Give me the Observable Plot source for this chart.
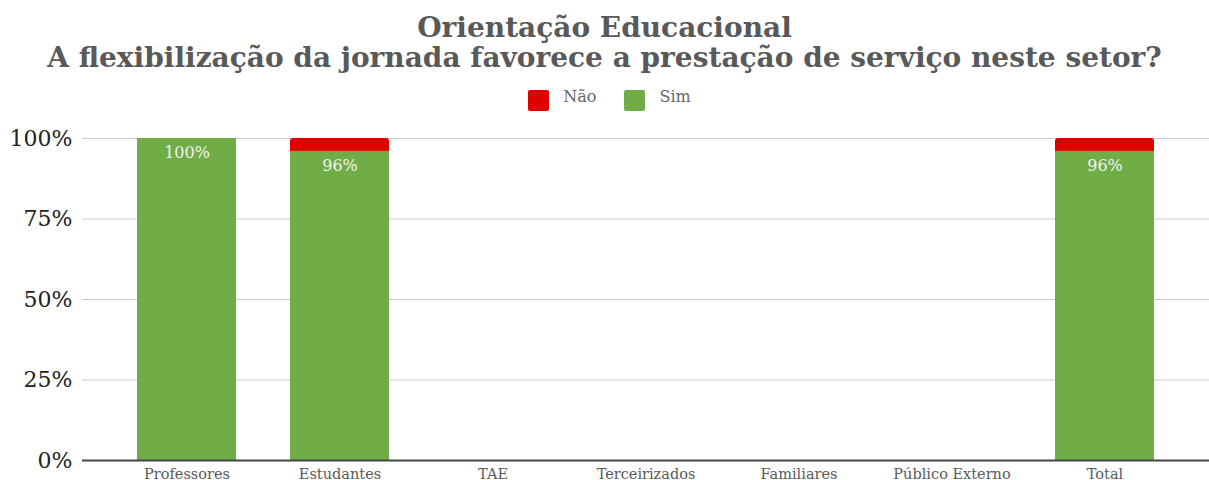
<!DOCTYPE html>
<html>
<head>
<meta charset="utf-8">
<script src="https://cdn.jsdelivr.net/npm/d3@7"></script>
<script src="https://cdn.jsdelivr.net/npm/@observablehq/plot@0.6"></script>
<style>
  html, body { margin: 0; background: #fff; font-family: "DejaVu Serif", serif; overflow: hidden; }
  #title { padding-top: 13px; text-align: center; font-weight: bold; font-size: 28px; line-height: 30px; color: #595959; white-space: nowrap; }
  #legend { height: 50px; box-sizing: border-box; padding-top: 4px; padding-left: 10px; display: flex; justify-content: center; align-items: center; font-size: 16px; color: #666; }
  .item { display: flex; align-items: center; margin: 0 14px; }
  .item span { position: relative; top: -4px; }
  .sw { width: 21px; height: 21px; border-radius: 2px; margin-right: 14px; }
</style>
</head>
<body>
<div id="title">Orientação Educacional<br>A flexibilização da jornada favorece a prestação de serviço neste setor?</div>
<div id="legend"></div>
<div id="chart"></div>
<script>
const categories = ["Professores", "Estudantes", "TAE", "Terceirizados", "Familiares", "Público Externo", "Total"];
const simValues = [100, 96, null, null, null, null, 96];
const naoValues = [0, 4, null, null, null, null, 4];
const yTicks = [0, 25, 50, 75, 100];
const seriesNames = ["Não", "Sim"];
const seriesColors = ["#e00000", "#70ad47"];

const legend = document.getElementById("legend");
seriesNames.forEach((n, i) => {
  const it = document.createElement("div");
  it.className = "item";
  it.innerHTML = `<div class="sw" style="background:${seriesColors[i]}"></div><span>${n}</span>`;
  legend.appendChild(it);
});

const rows = categories.map((c, i) => ({cat: c, sim: simValues[i], nao: naoValues[i]}))
  .filter(d => d.sim != null);

const chart = Plot.plot({
  width: 1209,
  height: 357,
  marginLeft: 108,
  marginRight: 25,
  marginTop: 15,
  marginBottom: 20,
  style: {fontFamily: "DejaVu Serif", background: "#fff", overflow: "visible"},
  x: {domain: categories, paddingInner: 0.35, paddingOuter: 0.175},
  y: {domain: [0, 100]},
  marks: [
    Plot.ruleY(yTicks.filter(t => t > 0), {stroke: "#cccccc", strokeWidth: 1.2, insetLeft: -26, insetRight: -25}),
    Plot.barY(rows.filter(d => d.nao > 0), {x: "cat", y1: 0, y2: d => d.sim + d.nao, fill: seriesColors[0], rx: 3}),
    Plot.barY(rows, {x: "cat", y1: 0, y2: "sim", fill: seriesColors[1]}),
    Plot.ruleY([0], {stroke: "#444", strokeWidth: 2, insetLeft: -26, insetRight: -25}),
    Plot.text(rows, {x: "cat", y: "sim", text: d => d.sim + "%", dy: 14, fill: "#f2f2f2", fontSize: 16}),
    Plot.axisY({ticks: yTicks, tickFormat: d => d + "%", tickSize: 0, tickPadding: 36, fontSize: 22, fill: "#222", label: null}),
    Plot.axisX({tickSize: 0, tickPadding: 8, fontSize: 14.5, fill: "#595959", label: null})
  ]
});
document.getElementById("chart").appendChild(chart);
</script>
</body>
</html>
